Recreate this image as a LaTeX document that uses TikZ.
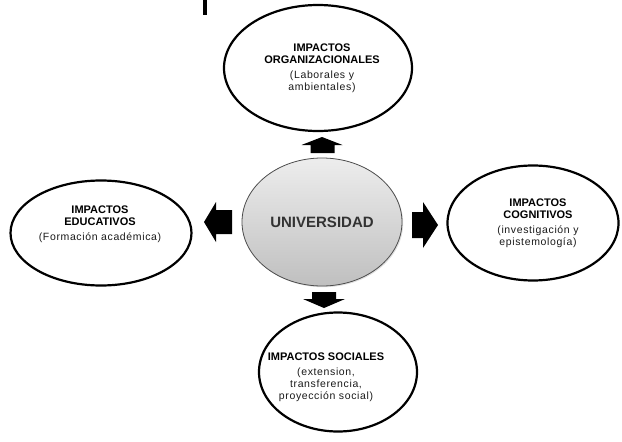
\documentclass[tikz,border=0pt]{standalone}
\usepackage{fontspec}
\setmainfont{Liberation Sans}
\newfontfamily\notefamily[LetterSpace=6]{Liberation Sans}
\usepackage{xcolor}
\usepackage{tikz}
\usetikzlibrary{shapes.geometric, shadows}
\newcommand{\headfont}{\bfseries\fontsize{11}{12.5}\selectfont}
\newcommand{\notefont}{\mdseries\notefamily\fontsize{10.5}{12}\selectfont\color{black!90}}
\tikzstyle{impact} = [ellipse, draw=black, line width=2.2pt, inner sep=0pt]
\tikzstyle{core} = [ellipse, draw=black!70, line width=0.8pt, top color=black!7, bottom color=black!25, drop shadow={opacity=0.25, shadow xshift=1.2pt, shadow yshift=-1.2pt}, inner sep=0pt, text=black!80]
\tikzstyle{caption} = [align=center, inner sep=0pt]
\tikzstyle{flow} = [fill=black]

\begin{document}
\begin{tikzpicture}[x=1pt, y=-1pt]
		\useasboundingbox (0,0) rectangle (622,442);
		\fill (203,0) rectangle (207,15);
		\node (Uni)[core, minimum width=160pt, minimum height=128pt] at (322,222) {\fontsize{15}{18}\selectfont\bfseries UNIVERSIDAD};
		\node (Org)[impact, minimum width=188pt, minimum height=126pt] at (318,68) {};
		\node (Edu)[impact, minimum width=181pt, minimum height=105pt] at (101,233) {};
		\node (Cog)[impact, minimum width=171pt, minimum height=115pt] at (533,223) {};
		\node (Soc)[impact, minimum width=158pt, minimum height=119pt] at (338,372) {};
		\node (OrgText)[caption] at (322,68) {\headfont IMPACTOS\\\headfont ORGANIZACIONALES\\[3pt]\notefont (Laborales y\\\notefont ambientales)};
		\node (EduText)[caption] at (100,224) {\headfont IMPACTOS\\\headfont EDUCATIVOS\\[3pt]\notefont (Formación académica)};
		\node (CogText)[caption] at (538,223) {\headfont IMPACTOS\\\headfont COGNITIVOS\\[3pt]\notefont (investigación y\\\notefont epistemología)};
		\node (SocText)[caption] at (326,377) {\headfont IMPACTOS SOCIALES\\[3pt]\notefont (extension,\\\notefont transferencia,\\\notefont proyección social)};
		% block arrows
		\fill[flow] (322,137) -- (342.5,145) -- (334.5,145) -- (334.5,153) -- (310.5,153) -- (310.5,145) -- (301.5,145) -- cycle;
		\fill[flow] (324,308) -- (345,299) -- (336,299) -- (336,292) -- (312,292) -- (312,299) -- (303,299) -- cycle;
		\fill[flow] (204,222) -- (216,202) -- (216,210) -- (232,210) -- (232,234) -- (216,234) -- (216,242) -- cycle;
		\fill[flow] (438,225) -- (423,202) -- (423,212) -- (412,212) -- (412,238) -- (423,238) -- (423,248) -- cycle;
	\end{tikzpicture}
\end{document}
